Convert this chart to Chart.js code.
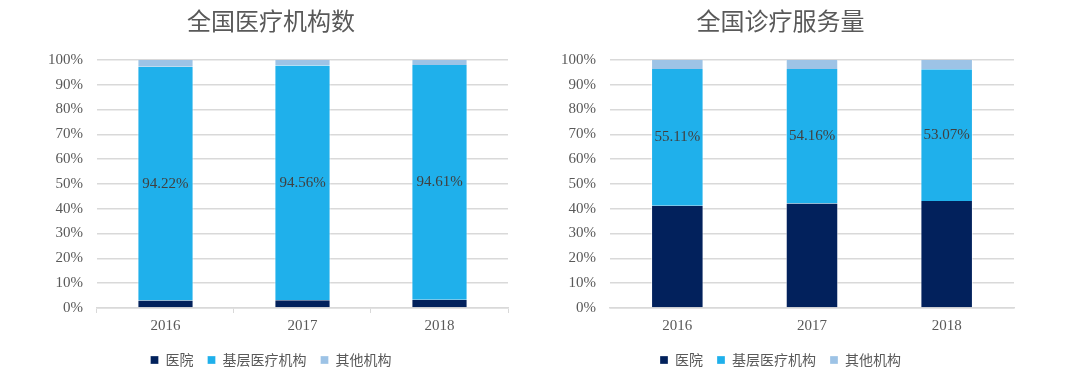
<!DOCTYPE html>
<html>
<head>
<meta charset="utf-8">
<script src="https://cdn.jsdelivr.net/npm/chart.js@4.4.1/dist/chart.umd.min.js"></script>
<style>
  html,body{margin:0;padding:0;background:#fff;}
  #wrap{position:relative;width:1080px;height:377px;}
  .box{position:absolute;top:0;height:377px;}
  #b1{left:0;width:560px;}
  #b2{left:540px;width:494px;}
</style>
</head>
<body>
<div id="wrap">
  <div class="box" id="b1"><canvas id="c1"></canvas></div>
  <div class="box" id="b2"><canvas id="c2"></canvas></div>
</div>
<script>
/* ===== Dados ===== */
const years = ['2016','2017','2018'];
const seriesNames = ['医院','基层医疗机构','其他机构'];

// 全国医疗机构数（占比 %）
const instHospital = [3.00, 3.15, 3.31];
const instPrimary  = [94.22, 94.56, 94.61];
const instOther    = [2.78, 2.29, 2.08];

// 全国诊疗服务量（占比 %）
const visitHospital = [41.20, 42.10, 43.10];
const visitPrimary  = [55.11, 54.16, 53.07];
const visitOther    = [3.69, 3.74, 3.83];

const yTicks = [0,10,20,30,40,50,60,70,80,90,100];

const COLORS = ['#02215c','#1fb0eb','#9dc3e6'];
const SERIF = '"Liberation Serif","Times New Roman",serif';
const CJK = '"Noto Sans CJK SC","Noto Sans",sans-serif';

/* ===== Rótulos no meio do segmento ===== */
const midLabels = {
  id:'midLabels',
  afterDatasetsDraw(chart){
    const ctx = chart.ctx;
    const meta = chart.getDatasetMeta(1);
    const ds = chart.data.datasets[1];
    ctx.save();
    ctx.font = '15px ' + SERIF;
    ctx.fillStyle = '#404040';
    ctx.textAlign = 'center';
    ctx.textBaseline = 'middle';
    meta.data.forEach((bar,i)=>{
      const y = (bar.y + bar.base)/2;
      ctx.fillText(ds.data[i].toFixed(2)+'%', bar.x, y);
    });
    ctx.restore();
  }
};

function makeChart(id, title, data, opts){
  const datasets = data.map((d,i)=>({
    label: seriesNames[i],
    data: d,
    backgroundColor: COLORS[i],
    borderColor: 'rgba(255,255,255,0.6)',
    borderWidth: {left:1,right:1,top:0,bottom:0},
    borderSkipped: false,
    categoryPercentage: 1,
    barPercentage: opts.barPct
  }));
  return new Chart(document.getElementById(id), {
    type:'bar',
    data:{ labels: years, datasets },
    options:{
      responsive:true, maintainAspectRatio:false, animation:false,
      layout:{ padding:{ left:opts.padLeft, right:opts.padRight, top:0, bottom:0 } },
      plugins:{
        title:{ display:true, text:title, color:'#595959',
                font:{ family:CJK, size:24, weight:'normal' },
                padding:{ top:6, bottom:25 } },
        legend:{ position:'bottom',
                 labels:{ color:'#595959', boxWidth:8, boxHeight:8, padding:14,
                          font:{ family:CJK, size:14 } } },
        tooltip:{ enabled:false }
      },
      scales:{
        x:{ stacked:true,
            grid:{ display:opts.xTicks, drawOnChartArea:false, offset:true, color:'#d9d9d9', tickLength:5 },
            border:{ color:'#d9d9d9', width:1.5 },
            ticks:{ color:'#595959', font:{ family:SERIF, size:15 }, padding:4 } },
        y:{ stacked:true, min:0, max:100,
            afterBuildTicks(s){ s.ticks = yTicks.map(v=>({value:v})); },
            grid:{ color:'#d9d9d9', lineWidth:1.5, drawTicks:false },
            border:{ display:false },
            ticks:{ color:'#595959', font:{ family:SERIF, size:15 }, padding:14,
                    callback:(v)=> v+'%' } }
      }
    },
    plugins:[midLabels]
  });
}

makeChart('c1','全国医疗机构数',[instHospital,instPrimary,instOther],
  {padLeft:34, padRight:52, barPct:0.41, xTicks:true});
makeChart('c2','全国诊疗服务量',[visitHospital,visitPrimary,visitOther],
  {padLeft:7, padRight:20, barPct:0.39, xTicks:false});
</script>
</body>
</html>
